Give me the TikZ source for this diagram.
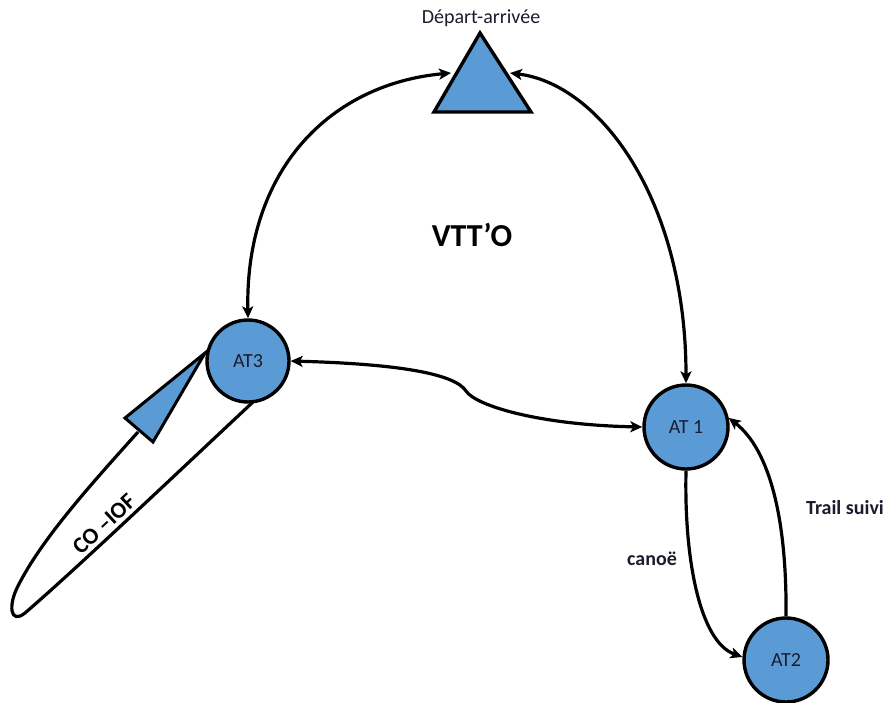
\documentclass[tikz,border=0pt]{standalone}
\usepackage{fontspec}
\setmainfont{Carlito}
\usetikzlibrary{arrows.meta}
\definecolor{nodeblue}{HTML}{5B9BD5}
\definecolor{txt}{HTML}{1C1C2E}
\tikzset{
  station/.style={circle, draw=black, line width=3.4pt, fill=nodeblue, inner sep=0pt, minimum size=82pt, text=txt, font=\fontsize{20}{22}\selectfont},
  conn/.style={draw=black, line width=3.2pt},
  tip/.style={-{Stealth[length=12pt,width=11pt,inset=3pt]}},
  bitip/.style={{Stealth[length=12pt,width=11pt,inset=3pt]}-{Stealth[length=12pt,width=11pt,inset=3pt]}},
  lbl/.style={text=txt, font=\bfseries\fontsize{20}{22}\selectfont},
  shapeline/.style={draw=black, line width=3.4pt, fill=nodeblue, line join=miter}
}
\begin{document}
\begin{tikzpicture}[x=1pt,y=-1pt]
\useasboundingbox (0,0) rectangle (893,703);
% start/finish triangle
\coordinate (apex) at (480,33);
\coordinate (bl) at (434,112);
\coordinate (br) at (531,112);
\draw[shapeline] (apex) -- (bl) -- (br) -- cycle;
\coordinate (tl) at (451,73);
\coordinate (tr) at (510,73);
\node[text=txt, font=\fontsize{20}{22}\selectfont] (depart) at (481,18) {Départ-arrivée};

% stations
\node[station] (at3) at (248,361) {AT3};
\node[station, minimum size=84pt] (at1) at (686,427) {AT 1};
\node[station, minimum size=84pt] (at2) at (786,660) {AT2};

% labels
\node[text=black, font=\bfseries\fontsize{32}{34}\selectfont] (vtto) at (472,235) {VTT’O};
\node[lbl] (canoe) at (652,559) {canoë};
\node[lbl] (trail) at (845,508) {Trail suivi};

% connectors
\draw[conn, bitip] (at3.north) .. controls (245,170) and (330,84) .. (tl);
\draw[conn, bitip] (tr) .. controls (600,84) and (686,200) .. (at1.north);
\draw[conn, bitip]
  (at3.east) .. controls (400,364) and (455,374) .. (466,391)
  .. controls (476,406) and (540,425) .. (at1.west);
\draw[conn, tip] (at1.south) .. controls (684,560) and (700,642) .. (at2.176);
\draw[conn, tip] (at2.north) .. controls (787,520) and (770,450) .. (at1.12);

% CO-IOF loop
\coordinate (loopstart) at (253,402);
\coordinate (looptip) at (25,613);
\coordinate (loopend) at (138,432);
\draw[conn, line join=round] (loopstart) .. controls (175,475) and (75,570) .. (looptip)
  .. controls (10,625) and (8,605) .. (18,586)
  .. controls (42,538) and (95,480) .. (loopend);
\coordinate (arrapex) at (205,353);
\coordinate (arrb1) at (125,418);
\coordinate (arrb2) at (153,442);
\draw[shapeline, line width=3pt] (arrapex) -- (arrb1) -- (arrb2) -- cycle;
\node[text=black, font=\bfseries\fontsize{23}{25}\selectfont, rotate=43, inner sep=0pt] (coiof) at (104,524) {CO –IOF};
\end{tikzpicture}
\end{document}
